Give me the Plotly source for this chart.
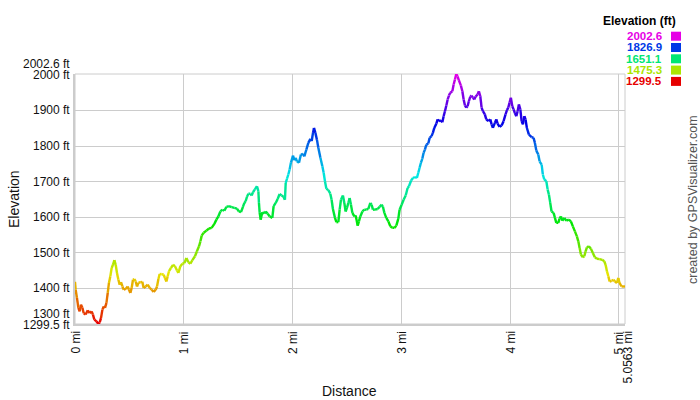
import colorsys
import plotly.graph_objects as go

# ---------------- data ----------------
distance_mi = [
    0.000, 0.006, 0.018, 0.031, 0.043, 0.055, 0.068, 0.080, 0.098, 0.117,
    0.135, 0.153, 0.165, 0.178, 0.197, 0.215, 0.227, 0.239, 0.252, 0.264,
    0.276, 0.289, 0.301, 0.312, 0.325, 0.337, 0.349, 0.362, 0.374, 0.386,
    0.399, 0.411, 0.423, 0.436, 0.448, 0.466, 0.484, 0.496, 0.509, 0.521,
    0.533, 0.546, 0.558, 0.570, 0.583, 0.601, 0.619, 0.631, 0.650, 0.668,
    0.687, 0.705, 0.723, 0.742, 0.754, 0.767, 0.778, 0.797, 0.815, 0.827,
    0.840, 0.852, 0.864, 0.882, 0.901, 0.919, 0.938, 0.950, 0.969, 0.987,
    1.006, 1.024, 1.042, 1.061, 1.079, 1.103, 1.121, 1.140, 1.153, 1.165,
    1.183, 1.208, 1.232, 1.256, 1.281, 1.300, 1.318, 1.336, 1.355, 1.373,
    1.392, 1.415, 1.440, 1.465, 1.489, 1.507, 1.526, 1.544, 1.557, 1.569,
    1.581, 1.594, 1.612, 1.624, 1.636, 1.654, 1.673, 1.686, 1.691, 1.698,
    1.707, 1.722, 1.741, 1.753, 1.771, 1.790, 1.814, 1.826, 1.845, 1.863,
    1.881, 1.900, 1.918, 1.930, 1.937, 1.949, 1.961, 1.973, 1.985, 2.004,
    2.017, 2.029, 2.040, 2.059, 2.077, 2.096, 2.108, 2.127, 2.145, 2.164,
    2.176, 2.188, 2.197, 2.210, 2.224, 2.237, 2.256, 2.274, 2.286, 2.298,
    2.311, 2.329, 2.347, 2.359, 2.371, 2.390, 2.403, 2.421, 2.433, 2.445,
    2.463, 2.476, 2.488, 2.500, 2.513, 2.525, 2.537, 2.550, 2.568, 2.580,
    2.599, 2.610, 2.623, 2.642, 2.660, 2.678, 2.697, 2.715, 2.727, 2.739,
    2.757, 2.782, 2.800, 2.819, 2.831, 2.844, 2.862, 2.881, 2.899, 2.917,
    2.936, 2.954, 2.972, 2.984, 3.003, 3.021, 3.040, 3.058, 3.070, 3.090,
    3.107, 3.125, 3.143, 3.156, 3.168, 3.180, 3.193, 3.205, 3.217, 3.230,
    3.248, 3.260, 3.278, 3.290, 3.303, 3.322, 3.334, 3.346, 3.364, 3.377,
    3.389, 3.401, 3.414, 3.426, 3.438, 3.450, 3.469, 3.481, 3.493, 3.505,
    3.517, 3.529, 3.548, 3.561, 3.573, 3.585, 3.597, 3.609, 3.621, 3.634,
    3.646, 3.658, 3.671, 3.683, 3.701, 3.713, 3.726, 3.738, 3.750, 3.768,
    3.781, 3.800, 3.818, 3.830, 3.842, 3.860, 3.873, 3.885, 3.903, 3.922,
    3.940, 3.958, 3.971, 3.983, 3.995, 4.007, 4.020, 4.032, 4.044, 4.057,
    4.069, 4.081, 4.094, 4.106, 4.118, 4.131, 4.142, 4.154, 4.173, 4.198,
    4.216, 4.228, 4.241, 4.259, 4.271, 4.290, 4.301, 4.314, 4.333, 4.345,
    4.357, 4.369, 4.381, 4.400, 4.412, 4.425, 4.443, 4.455, 4.467, 4.480,
    4.498, 4.517, 4.540, 4.559, 4.577, 4.596, 4.614, 4.627, 4.639, 4.651,
    4.669, 4.682, 4.694, 4.706, 4.724, 4.743, 4.761, 4.779, 4.798, 4.823,
    4.847, 4.866, 4.878, 4.890, 4.903, 4.915, 4.933, 4.952, 4.963, 4.982,
    4.995, 5.006, 5.025, 5.0563,
]

elevation_ft = [
    1418, 1396, 1373, 1345, 1335, 1354, 1345, 1330, 1326, 1338,
    1330, 1335, 1326, 1312, 1307, 1299.5, 1304, 1316, 1340, 1349,
    1345, 1359, 1387, 1415, 1434, 1457, 1466, 1479, 1466, 1443,
    1424, 1410, 1417, 1405, 1396, 1398, 1405, 1396, 1387, 1401,
    1424, 1426, 1419, 1405, 1415, 1417, 1418, 1401, 1405, 1410,
    1401, 1396, 1390, 1396, 1405, 1426, 1440, 1440, 1438, 1429,
    1419, 1434, 1448, 1457, 1466, 1462, 1450, 1443, 1462, 1469,
    1471, 1485, 1473, 1469, 1479, 1490, 1504, 1518, 1532, 1548,
    1556, 1562, 1568, 1570, 1581, 1593, 1602, 1616, 1621, 1618,
    1629, 1631, 1628, 1626, 1624, 1616, 1614, 1629, 1640, 1645,
    1657, 1666, 1666, 1661, 1670, 1678, 1687, 1673, 1640, 1612,
    1593, 1614, 1610, 1616, 1610, 1602, 1598, 1631, 1640, 1651,
    1665, 1661, 1657, 1649, 1696, 1708, 1720, 1734, 1753, 1773,
    1760, 1767, 1757, 1753, 1776, 1778, 1771, 1790, 1809, 1820,
    1814, 1837, 1851, 1837, 1818, 1795, 1767, 1743, 1725, 1701,
    1680, 1676, 1666, 1649, 1623, 1598, 1586, 1586, 1621, 1649,
    1661, 1640, 1616, 1626, 1640, 1654, 1635, 1612, 1602, 1605,
    1576, 1588, 1602, 1616, 1621, 1621, 1623, 1640, 1635, 1621,
    1621, 1623, 1629, 1635, 1629, 1612, 1598, 1588, 1574, 1570,
    1570, 1576, 1595, 1621, 1635, 1649, 1661, 1682, 1687, 1703,
    1710, 1713, 1710, 1725, 1739, 1753, 1764, 1781, 1790, 1804,
    1807, 1823, 1828, 1837, 1851, 1863, 1875, 1870, 1872, 1867,
    1884, 1898, 1914, 1931, 1942, 1950, 1954, 1973, 1987, 2002.6,
    1996, 1985, 1970, 1954, 1931, 1914, 1908, 1912, 1926, 1939,
    1942, 1936, 1931, 1939, 1945, 1954, 1940, 1908, 1898, 1889,
    1875, 1870, 1875, 1861, 1851, 1865, 1875, 1863, 1854, 1858,
    1870, 1889, 1901, 1908, 1922, 1936, 1912, 1903, 1893, 1884,
    1898, 1917, 1903, 1870, 1861, 1884, 1875, 1851, 1832, 1825,
    1823, 1809, 1787, 1776, 1757, 1748, 1720, 1706, 1701, 1678,
    1663, 1640, 1616, 1612, 1598, 1584, 1584, 1596, 1602, 1590,
    1598, 1590, 1593, 1588, 1574, 1560, 1546, 1532, 1513, 1495,
    1487, 1490, 1504, 1515, 1518, 1511, 1499, 1487, 1483, 1482,
    1480, 1476, 1466, 1448, 1434, 1419, 1421, 1424, 1419, 1415,
    1429, 1415, 1405, 1405,
]

y_grid_values = [1300, 1400, 1500, 1600, 1700, 1800, 1900, 2000]
y_tick_labels = ["1400 ft", "1500 ft", "1600 ft", "1700 ft", "1800 ft", "1900 ft", "2000 ft"]
x_grid_values = [0, 1, 2, 3, 4, 5]
x_tick_labels = ["0 mi", "1 mi", "2 mi", "3 mi", "4 mi", "5 mi"]
legend_values = [2002.6, 1826.9, 1651.1, 1475.3, 1299.5]

elev_min = 1299.5
elev_max = 2002.6
total_distance = 5.0563

FONT = "Arial, 'Liberation Sans', sans-serif"
GRID = "#cccccc"

# plot area in pixels (for layout helpers)
W, H = 700, 400
L, R, T, B = 75, 75, 74, 76
PW, PH = W - L - R, H - T - B


def px_x(px):
    return (px - L) / PW


def px_y(py):
    return (H - B - py) / PH


def elev_color(e):
    t = (e - elev_min) / (elev_max - elev_min)
    t = min(max(t, 0.0), 1.0)
    r, g, b = colorsys.hsv_to_rgb(t * 300.0 / 360.0, 1.0, 0.9)
    return "rgb(%d,%d,%d)" % (round(r * 255), round(g * 255), round(b * 255))


fig = go.Figure()

# colour-graded profile line: segments grouped by colour bin
NB = 90
bins = {}
for i in range(len(distance_mi) - 1):
    mid = (elevation_ft[i] + elevation_ft[i + 1]) / 2.0
    t = (mid - elev_min) / (elev_max - elev_min)
    k = int(round(min(max(t, 0), 1) * NB))
    xs, ys = bins.setdefault(k, ([], []))
    xs += [distance_mi[i], distance_mi[i + 1], None]
    ys += [elevation_ft[i], elevation_ft[i + 1], None]

for k in sorted(bins):
    xs, ys = bins[k]
    e = elev_min + (elev_max - elev_min) * k / NB
    fig.add_trace(go.Scatter(
        x=xs, y=ys, mode="lines",
        line=dict(color=elev_color(e), width=2.4),
        hoverinfo="skip", showlegend=False,
    ))

TICKFONT = dict(family=FONT, size=12, color="#111")
annotations = []
# y tick labels
for v, txt in zip(y_grid_values[1:], y_tick_labels):
    annotations.append(dict(x=0, xref="paper", y=v, yref="y", text=txt,
                            xanchor="right", yanchor="middle", xshift=-3,
                            showarrow=False, font=TICKFONT))
annotations.append(dict(x=0, xref="paper", y=elev_max, yref="y", text="%.1f ft" % elev_max,
                        xanchor="right", yanchor="middle", xshift=-3, yshift=10,
                        showarrow=False, font=TICKFONT))
annotations.append(dict(x=0, xref="paper", y=1300, yref="y", text="1300 ft",
                        xanchor="right", yanchor="middle", xshift=-3, yshift=9.5,
                        showarrow=False, font=TICKFONT))
annotations.append(dict(x=0, xref="paper", y=elev_min, yref="y", text="%.1f ft" % elev_min,
                        xanchor="right", yanchor="middle", xshift=-3, yshift=-1,
                        showarrow=False, font=TICKFONT))
# x tick labels (rotated)
for v, txt in zip(x_grid_values, x_tick_labels):
    annotations.append(dict(x=v, xref="x", y=0, yref="paper", text=txt, textangle=-90,
                            xanchor="center", yanchor="top", yshift=-5,
                            showarrow=False, font=TICKFONT))
annotations.append(dict(x=total_distance, xref="x", y=0, yref="paper",
                        text="%.4f mi" % total_distance, textangle=-90,
                        xanchor="center", yanchor="top", yshift=-5, xshift=2,
                        showarrow=False, font=TICKFONT))
# axis titles
annotations.append(dict(x=px_x(14), xref="paper", y=px_y(199), yref="paper", text="Elevation",
                        textangle=-90, xanchor="center", yanchor="middle", showarrow=False,
                        font=dict(family=FONT, size=14, color="#111")))
annotations.append(dict(x=px_x(349), xref="paper", y=px_y(391), yref="paper", text="Distance",
                        xanchor="center", yanchor="middle", showarrow=False,
                        font=dict(family=FONT, size=14, color="#111")))
# credit
annotations.append(dict(x=px_x(693), xref="paper", y=px_y(200), yref="paper",
                        text="created by GPSVisualizer.com", textangle=-90,
                        xanchor="center", yanchor="middle", showarrow=False,
                        font=dict(family=FONT, size=12.5, color="#555")))
# legend
annotations.append(dict(x=px_x(678), xref="paper", y=px_y(21), yref="paper",
                        text="<b>Elevation (ft)</b>", xanchor="right", yanchor="middle",
                        showarrow=False, font=dict(family=FONT, size=12, color="#000")))
shapes = []
for i, v in enumerate(legend_values):
    yc = 36.2 + i * 11.3
    col = elev_color(v)
    annotations.append(dict(x=px_x(664), xref="paper", y=px_y(yc), yref="paper",
                            text="<b>%.1f</b>" % v, xanchor="right", yanchor="middle",
                            showarrow=False, font=dict(family=FONT, size=11.5, color=col)))
    shapes.append(dict(type="rect", xref="paper", yref="paper",
                       x0=px_x(671), x1=px_x(681), y0=px_y(yc + 4.5), y1=px_y(yc - 4.5),
                       line=dict(width=0), fillcolor=col))

# frame
shapes.append(dict(type="rect", xref="paper", yref="paper", x0=0, x1=1, y0=0, y1=1,
                   line=dict(color=GRID, width=1), layer="below"))

fig.update_layout(
    width=W, height=H,
    margin=dict(l=L, r=R, t=T, b=B, pad=0, autoexpand=False),
    paper_bgcolor="white", plot_bgcolor="white",
    showlegend=False, hovermode=False,
    annotations=annotations, shapes=shapes,
    xaxis=dict(range=[0, total_distance], tickvals=x_grid_values, showticklabels=False,
               showgrid=True, gridcolor=GRID, gridwidth=1, zeroline=False,
               showline=True, linecolor=GRID, linewidth=2, ticks="", fixedrange=True),
    yaxis=dict(range=[elev_min, elev_max], tickvals=y_grid_values, showticklabels=False,
               showgrid=True, gridcolor=GRID, gridwidth=1, zeroline=False,
               showline=True, linecolor=GRID, linewidth=2, ticks="", fixedrange=True),
)

fig.write_html(
    "out.html",
    config={"displayModeBar": False, "staticPlot": True},
    post_script="document.body.style.margin='0';document.body.style.overflow='hidden';",
)
